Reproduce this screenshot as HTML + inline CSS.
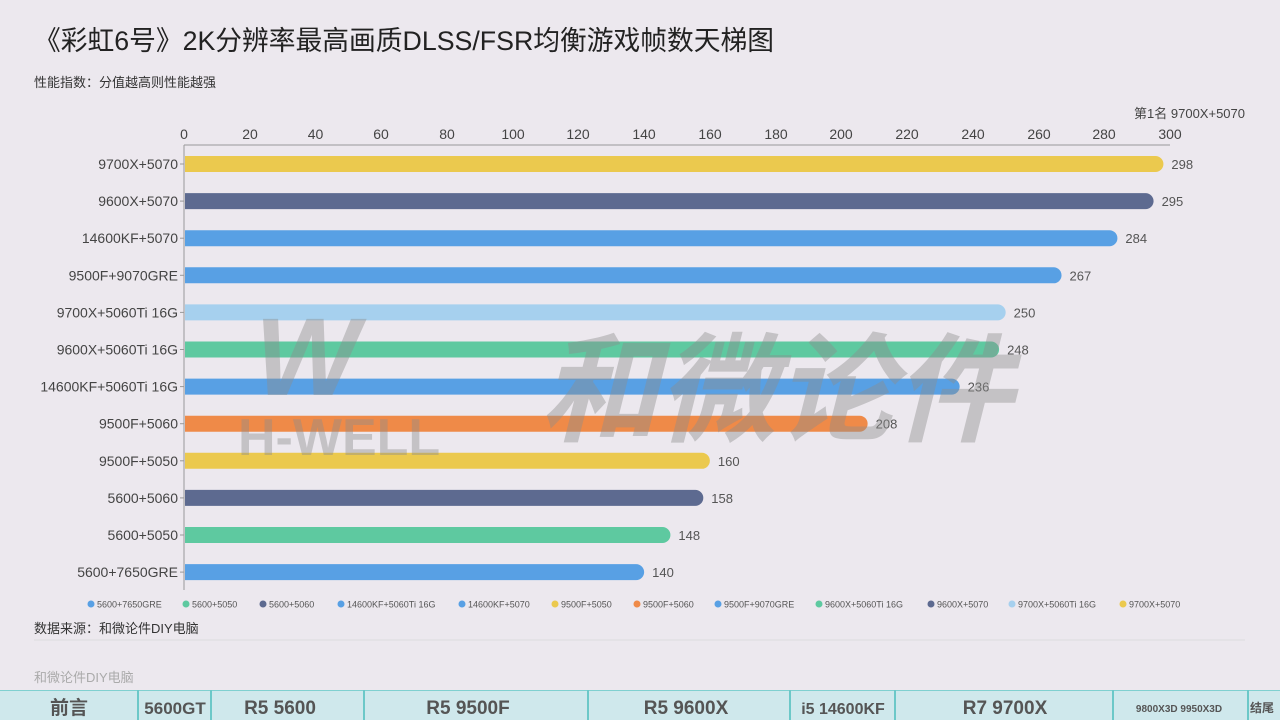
<!DOCTYPE html>
<html><head><meta charset="utf-8"><style>
body{margin:0;width:1280px;height:720px;overflow:hidden;background:#ece8ee;font-family:"Liberation Sans","Noto Sans CJK SC",sans-serif;}
</style></head><body>
<svg width="1280" height="720" xmlns="http://www.w3.org/2000/svg" style="position:absolute;left:0;top:0;font-family:'Liberation Sans','Noto Sans CJK SC',sans-serif">
<rect width="1280" height="720" fill="#ece8ee"/>
<text x="34" y="50" font-size="27" fill="#222" textLength="740" lengthAdjust="spacingAndGlyphs">《彩虹6号》2K分辨率最高画质DLSS/FSR均衡游戏帧数天梯图</text>
<text x="34" y="87" font-size="13" fill="#333">性能指数：分值越高则性能越强</text>
<text x="1245" y="118" font-size="13" fill="#444" text-anchor="end">第1名 9700X+5070</text>
<g font-size="14" fill="#444" text-anchor="middle">
<text x="184" y="139">0</text><text x="250" y="139">20</text><text x="315.5" y="139">40</text><text x="381" y="139">60</text><text x="447" y="139">80</text><text x="513" y="139">100</text><text x="578" y="139">120</text><text x="644" y="139">140</text><text x="710" y="139">160</text><text x="776" y="139">180</text><text x="841" y="139">200</text><text x="907" y="139">220</text><text x="973" y="139">240</text><text x="1039" y="139">260</text><text x="1104" y="139">280</text><text x="1170" y="139">300</text>
</g>
<line x1="184" y1="145" x2="1170" y2="145" stroke="#999" stroke-width="1"/>
<line x1="184" y1="145" x2="184" y2="590" stroke="#999" stroke-width="1"/>
<g id="bars"></g>
<g fill="rgba(140,140,140,0.42)">
<text x="540" y="432" font-size="118" font-weight="bold" font-style="italic" font-family="'Noto Sans CJK SC',sans-serif">和微论件</text>
<text x="238" y="455" font-size="52" font-weight="bold" font-family="'Liberation Sans',sans-serif">H-WELL</text>
<text x="255" y="395" font-size="110" font-weight="bold" font-style="italic" font-family="'Liberation Sans',sans-serif">W</text>
</g>
<text x="34" y="633" font-size="13" fill="#333">数据来源：和微论件DIY电脑</text>
<line x1="34" y1="640" x2="1245" y2="640" stroke="#ddd"/>
<text x="34" y="682" font-size="13" fill="#aaa">和微论件DIY电脑</text>
<rect x="0" y="690" width="1280" height="30" fill="#cfe8ec"/>
<line x1="0" y1="690.5" x2="1280" y2="690.5" stroke="#7fd0d0"/>
<g stroke="#6cc8c8" stroke-width="2">
<line x1="138" y1="690" x2="138" y2="720"/><line x1="211" y1="690" x2="211" y2="720"/><line x1="364" y1="690" x2="364" y2="720"/><line x1="588" y1="690" x2="588" y2="720"/><line x1="790" y1="690" x2="790" y2="720"/><line x1="895" y1="690" x2="895" y2="720"/><line x1="1113" y1="690" x2="1113" y2="720"/><line x1="1248" y1="690" x2="1248" y2="720"/>
</g>
<g font-size="19" font-weight="bold" fill="#555" text-anchor="middle">
<text x="69" y="714">前言</text><text x="175" y="714" font-size="17">5600GT</text><text x="280" y="714">R5 5600</text><text x="468" y="714">R5 9500F</text><text x="686" y="714">R5 9600X</text><text x="843" y="714" font-size="16">i5 14600KF</text><text x="1005" y="714">R7 9700X</text><text x="1179" y="712" font-size="10">9800X3D 9950X3D</text><text x="1262" y="712" font-size="12">结尾</text>
</g>
</svg>
<script>
var d=[["9700X+5070",298,"#ebc94e"],["9600X+5070",295,"#5d6a90"],["14600KF+5070",284,"#58a0e4"],["9500F+9070GRE",267,"#58a0e4"],["9700X+5060Ti 16G",250,"#a6d0ee"],["9600X+5060Ti 16G",248,"#5ec9a0"],["14600KF+5060Ti 16G",236,"#58a0e4"],["9500F+5060",208,"#ef8a48"],["9500F+5050",160,"#ebc94e"],["5600+5060",158,"#5d6a90"],["5600+5050",148,"#5ec9a0"],["5600+7650GRE",140,"#58a0e4"]];
var s="";
d.forEach(function(r,i){var y=164+i*37.1;var w=r[1]*986/300;
s+='<path d="M185 '+(y-8)+'H'+(184+w-8)+'A8 8 0 0 1 '+(184+w-8)+' '+(y+8)+'H185Z" fill="'+r[2]+'"/>';
s+='<text x="178" y="'+(y+5)+'" font-size="14" fill="#444" text-anchor="end">'+r[0]+'</text>';
s+='<line x1="180" x2="184" y1="'+y+'" y2="'+y+'" stroke="#999"/>';
s+='<text x="'+(184+w+8)+'" y="'+(y+5)+'" font-size="13" fill="#555">'+r[1]+'</text>';});
var leg=[["5600+7650GRE","#58a0e4",88],["5600+5050","#5ec9a0",183],["5600+5060","#5d6a90",260],["14600KF+5060Ti 16G","#58a0e4",338],["14600KF+5070","#58a0e4",459],["9500F+5050","#ebc94e",552],["9500F+5060","#ef8a48",634],["9500F+9070GRE","#58a0e4",715],["9600X+5060Ti 16G","#5ec9a0",816],["9600X+5070","#5d6a90",928],["9700X+5060Ti 16G","#a6d0ee",1009],["9700X+5070","#ebc94e",1120]];
leg.forEach(function(l){s+='<circle cx="'+(l[2]+3)+'" cy="604" r="3.5" fill="'+l[1]+'"/><text x="'+(l[2]+9)+'" y="607.5" font-size="9" fill="#555">'+l[0]+'</text>';});
document.getElementById("bars").innerHTML=s;
</script>
</body></html>
